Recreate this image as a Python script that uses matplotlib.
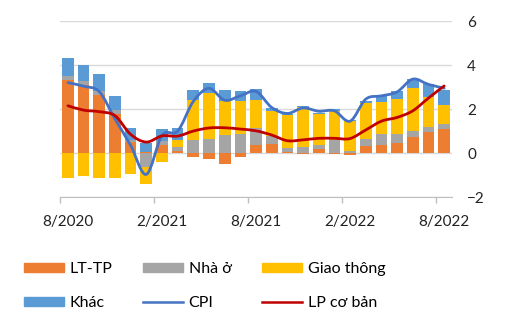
import matplotlib
matplotlib.use("Agg")
import matplotlib.pyplot as plt
import numpy as np
from matplotlib.path import Path
from matplotlib.patches import PathPatch, Patch
from matplotlib.lines import Line2D

# Monthly data, 8/2020 .. 8/2022 (percent, yoy contribution)
months = ["8/2020", "9/2020", "10/2020", "11/2020", "12/2020",
          "1/2021", "2/2021", "3/2021", "4/2021", "5/2021", "6/2021", "7/2021",
          "8/2021", "9/2021", "10/2021", "11/2021", "12/2021",
          "1/2022", "2/2022", "3/2022", "4/2022", "5/2022", "6/2022", "7/2022", "8/2022"]
lt_tp = [3.33, 3.10, 2.64, 1.77, 0.48, 0.03, 0.38, 0.09, -0.20, -0.27, -0.50, -0.20,
         0.36, 0.41, 0.05, -0.03, 0.18, -0.03, -0.08, 0.33, 0.38, 0.44, 0.71, 0.97, 1.08]
nha_o = [0.16, 0.16, 0.19, 0.18, 0.12, -0.64, 0.18, 0.20, 0.59, 0.62, 0.80, 0.86,
         0.80, 0.35, 0.20, 0.29, 0.18, 0.59, 0.08, 0.31, 0.48, 0.42, 0.30, 0.23, 0.24]
giao_thong = [-1.15, -1.03, -1.12, -1.12, -0.97, -0.76, -0.40, 0.31, 1.82, 2.11, 1.58, 1.52,
              1.25, 1.16, 1.48, 1.80, 1.41, 1.33, 1.39, 1.62, 1.47, 1.59, 1.93, 1.33, 0.86]
khac = [0.83, 0.74, 0.77, 0.64, 0.52, 0.42, 0.53, 0.55, 0.47, 0.45, 0.50, 0.45,
        0.50, 0.13, 0.05, 0.05, 0.05, 0.08, 0.02, 0.12, 0.27, 0.38, 0.42, 0.61, 0.70]
cpi = [3.20, 3.04, 2.79, 1.55, 0.35, -0.97, 0.80, 1.00, 2.35, 2.94, 2.40, 2.60,
       2.80, 2.07, 1.80, 2.05, 1.90, 1.92, 1.45, 2.45, 2.60, 2.78, 3.36, 3.12, 2.95]
lp_co_ban = [2.15, 1.95, 1.88, 1.70, 0.85, 0.50, 0.78, 0.77, 1.00, 1.14, 1.15, 1.09,
             1.01, 0.82, 0.56, 0.60, 0.67, 0.67, 0.66, 1.05, 1.45, 1.62, 1.92, 2.50, 3.05]

series = [("LT-TP", lt_tp, "#ED7D31"),
          ("Nhà ở", nha_o, "#A5A5A5"),
          ("Giao thông", giao_thong, "#FFC000"),
          ("Khác", khac, "#5B9BD5")]

plt.rcParams["font.family"] = ["Lato", "DejaVu Sans"]

fig = plt.figure(figsize=(5.05, 3.34), dpi=100)
ax = fig.add_axes([0.119, 0.41, 0.776, 0.527])

x = np.arange(len(months))
pos_bottom = np.zeros(len(months))
neg_bottom = np.zeros(len(months))
for name, vals, col in series:
    v = np.array(vals)
    bottom = np.where(v >= 0, pos_bottom, neg_bottom)
    ax.bar(x, v, width=0.745, bottom=bottom, color=col, zorder=2)
    pos_bottom = pos_bottom + np.where(v >= 0, v, 0)
    neg_bottom = neg_bottom + np.where(v < 0, v, 0)


def smooth_line(xs, ys, color, lw):
    # Catmull-Rom style curve through the points, drawn as bezier path
    pts = np.column_stack([xs, ys]).astype(float)
    verts = [pts[0]]
    codes = [Path.MOVETO]
    n = len(pts)
    for i in range(n - 1):
        p0 = pts[max(i - 1, 0)]
        p1 = pts[i]
        p2 = pts[i + 1]
        p3 = pts[min(i + 2, n - 1)]
        c1 = p1 + (p2 - p0) / 6.0
        c2 = p2 - (p3 - p1) / 6.0
        verts += [c1, c2, p2]
        codes += [Path.CURVE4] * 3
    patch = PathPatch(Path(verts, codes), fill=False, edgecolor=color,
                      lw=lw, capstyle="round", joinstyle="round", zorder=3)
    ax.add_patch(patch)


smooth_line(x, cpi, "#4472C4", 2.0)
smooth_line(x, lp_co_ban, "#C00000", 2.0)

ax.set_xlim(-0.5, len(months) - 0.5)
ax.set_ylim(-2, 6)
ax.set_yticks([-2, 0, 2, 4, 6])
ax.yaxis.tick_right()
ax.tick_params(axis="y", length=0, pad=11, labelsize=11, colors="#222222")
ax.grid(axis="y", color="#D9D9D9", linewidth=1, zorder=0)
ax.set_axisbelow(True)

ax.set_xticks(x[::6])
ax.set_xticklabels([months[i] for i in range(0, len(months), 6)])
ax.set_xticks(np.arange(-0.5, len(months) - 1, 6), minor=True)
ax.tick_params(axis="x", which="major", length=0, pad=13, labelsize=11, colors="#222222")
ax.tick_params(axis="x", which="minor", length=4, color="#BFBFBF", width=1)

for s in ["top", "left", "right"]:
    ax.spines[s].set_visible(False)
ax.spines["bottom"].set_color("#BFBFBF")

handles = [Patch(color="#ED7D31"), Patch(color="#5B9BD5"),
           Patch(color="#A5A5A5"), Line2D([], [], color="#4472C4", lw=1.8),
           Patch(color="#FFC000"), Line2D([], [], color="#C00000", lw=1.8)]
labels = ["LT-TP", "Khác", "Nhà ở", "CPI", "Giao thông", "LP cơ bản"]
fig.legend(handles, labels, ncol=3, loc="upper left", bbox_to_anchor=(0.02, 0.258),
           frameon=False, fontsize=11.5, handlelength=2.5, handleheight=0.5,
           handletextpad=0.35, columnspacing=1.9, labelspacing=1.25)

fig.savefig("out.png", dpi=100)
